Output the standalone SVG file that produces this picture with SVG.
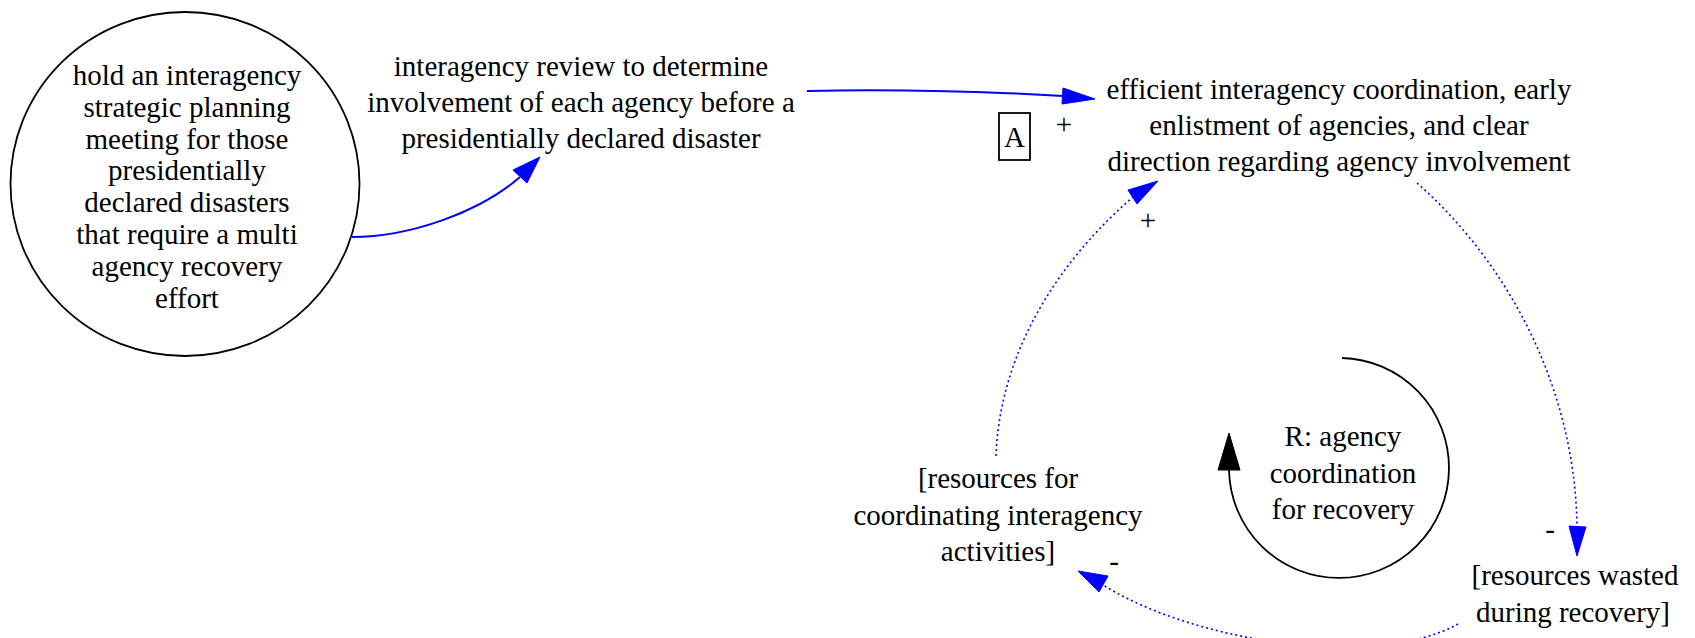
<svg xmlns="http://www.w3.org/2000/svg" width="1695" height="638" viewBox="0 0 1695 638">
<style>
text{font-family:"Liberation Serif","Times New Roman",serif;font-size:29px;fill:#000;text-anchor:middle}
.solid{fill:none;stroke:#0000ff;stroke-width:2}
.dot{fill:none;stroke:#0000ff;stroke-width:1.6;stroke-dasharray:2,3}
.head{fill:#0000ff;stroke:#0000ff;stroke-width:1}
</style>
<rect width="1695" height="638" fill="#fff"/>
<g id="n_hold">
<ellipse cx="185" cy="184" rx="174.5" ry="172" fill="none" stroke="#000" stroke-width="1.8"/>
<text x="187" y="85">hold an interagency</text>
<text x="187" y="117">strategic planning</text>
<text x="187" y="149">meeting for those</text>
<text x="187" y="180">presidentially</text>
<text x="187" y="212">declared disasters</text>
<text x="187" y="244">that require a multi</text>
<text x="187" y="276">agency recovery</text>
<text x="187" y="308">effort</text>
</g>
<g id="n_review">
<text x="581" y="76">interagency review to determine</text>
<text x="581" y="112">involvement of each agency before a</text>
<text x="581" y="148">presidentially declared disaster</text>
</g>
<g id="n_efficient">
<text x="1339" y="99">efficient interagency coordination, early</text>
<text x="1339" y="135">enlistment of agencies, and clear</text>
<text x="1339" y="171">direction regarding agency involvement</text>
</g>
<g id="n_coord">
<text x="998" y="488">[resources for</text>
<text x="998" y="525">coordinating interagency</text>
<text x="998" y="561">activities]</text>
</g>
<g id="n_wasted">
<text x="1575" y="585">[resources wasted</text>
<text x="1573" y="622">during recovery]</text>
</g>
<g id="loop_R">
<path d="M1342,358 A110,110 0 1 1 1229,470" fill="none" stroke="#000" stroke-width="1.8"/>
<polygon points="1229,433 1218,470 1240,470" fill="#000" stroke="#000"/>
<text x="1343" y="446">R: agency</text>
<text x="1343" y="483">coordination</text>
<text x="1343" y="519">for recovery</text>
</g>
<g id="marker_A">
<rect x="999" y="113" width="31" height="47" fill="none" stroke="#000" stroke-width="1.8"/>
<text x="1014.5" y="147">A</text>
</g>
<g id="connectors">
<path class="solid" d="M352,237 C410,237 480,212 520,177"/>
<polygon class="head" points="540,157 513,170 527,183"/>
<path class="solid" d="M807,91 C900,89 1000,92 1063,96"/>
<polygon class="head" points="1095,99 1063,88 1062,104"/>
<text x="1064" y="134">+</text>
<path class="dot" d="M996,456 C1000,350 1060,260 1133,197"/>
<polygon class="head" points="1158,181 1128,190 1137,204"/>
<text x="1148" y="230">+</text>
<path class="dot" d="M1417,183 C1510,265 1575,390 1577,526"/>
<polygon class="head" points="1577,556 1569,526 1586,527"/>
<text x="1550" y="539">-</text>
<path class="dot" d="M1458,624 C1380,668 1200,645 1103,585"/>
<polygon class="head" points="1078,571 1099,592 1108,576"/>
<text x="1114" y="571">-</text>
</g>
</svg>
